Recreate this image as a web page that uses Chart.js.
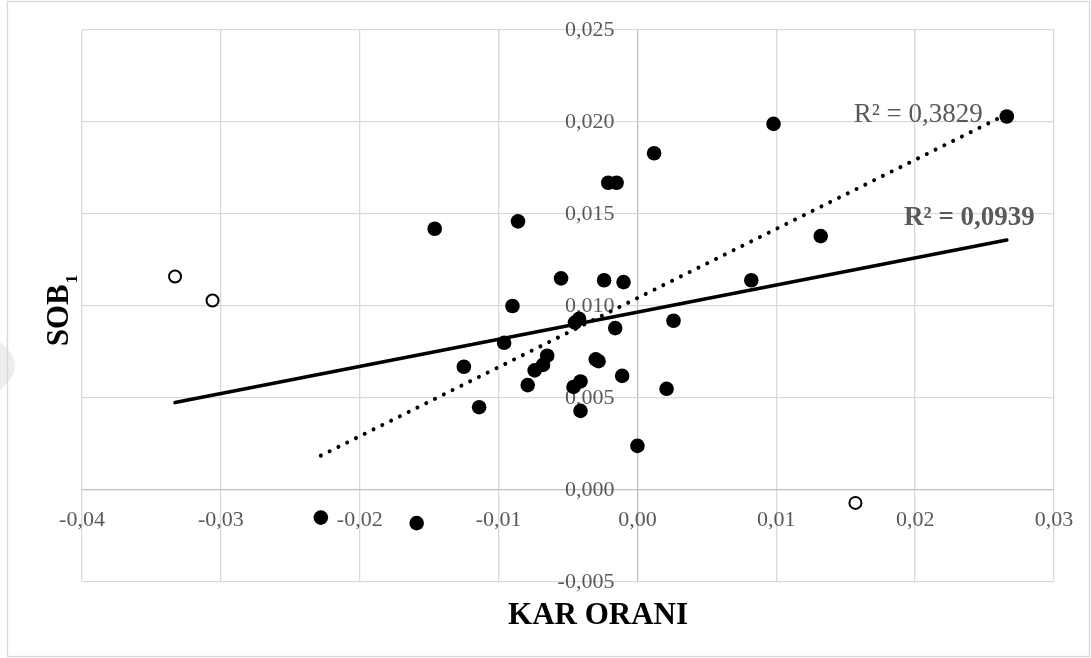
<!DOCTYPE html>
<html>
<head>
<meta charset="utf-8">
<style>
  html, body { margin: 0; padding: 0; background: #fff; }
</style>
</head>
<body>
<canvas id="sobChart" width="1091" height="658"></canvas>
<script src="https://cdn.jsdelivr.net/npm/chart.js"></script>
<script>
    // filled points (KAR ORANI, SOB1)
    const karOrani = [0.0266, 0.0098, 0.0012, -0.0021, -0.0015, -0.0086, -0.0146, 0.0132,
        -0.0055, -0.0024, -0.0010, 0.0082, -0.0090, -0.0045, -0.0042, -0.0016, 0.0026,
        -0.0096, -0.0125, -0.0065, -0.0068, -0.0074, -0.0079, -0.0030, -0.0028, -0.0011,
        0.0021, -0.0046, -0.0041, -0.0114, -0.0041, 0.0000, -0.0228, -0.0159];
    const sob1 = [0.0203, 0.0199, 0.0183, 0.0167, 0.0167, 0.0146, 0.0142, 0.0138,
        0.0115, 0.0114, 0.0113, 0.0114, 0.0100, 0.0091, 0.0093, 0.0088, 0.0092,
        0.0080, 0.0067, 0.0073, 0.0068, 0.0065, 0.0057, 0.0071, 0.0070, 0.0062,
        0.0055, 0.0056, 0.0059, 0.0045, 0.0043, 0.0024, -0.0015, -0.0018];

    // open circles (outliers)
    const outlierX = [-0.0333, -0.0306, 0.0157];
    const outlierY = [0.0116, 0.0103, -0.0007];

    const xTickValues = [-0.04, -0.03, -0.02, -0.01, 0, 0.01, 0.02, 0.03];
    const xTickLabels = ['-0,04', '-0,03', '-0,02', '-0,01', '0,00', '0,01', '0,02', '0,03'];
    const yTickValues = [-0.005, 0, 0.005, 0.01, 0.015, 0.02, 0.025];
    const yTickLabels = ['-0,005', '0,000', '0,005', '0,010', '0,015', '0,020', '0,025'];

    const r2Dotted = 'R² = 0,3829';
    const r2Solid = 'R² = 0,0939';

    const SERIF = '"Liberation Serif", "Times New Roman", serif';

    function toPoints(xs, ys) {
        return xs.map((x, i) => ({x: x, y: ys[i]}));
    }

    // least squares line over the x range of the data
    function trend(xs, ys) {
        const n = xs.length;
        const mx = xs.reduce((a, b) => a + b, 0) / n;
        const my = ys.reduce((a, b) => a + b, 0) / n;
        let sxy = 0, sxx = 0;
        for (let i = 0; i < n; i++) {
            sxy += (xs[i] - mx) * (ys[i] - my);
            sxx += (xs[i] - mx) * (xs[i] - mx);
        }
        const b = sxy / sxx, a = my - b * mx;
        const lo = Math.min(...xs), hi = Math.max(...xs);
        return [{x: lo, y: a + b * lo}, {x: hi, y: a + b * hi}];
    }

    const allX = karOrani.concat(outlierX);
    const allY = sob1.concat(outlierY);

    const gridColor = ctx => (ctx.tick && ctx.tick.value === 0) ? '#bfbfbf' : '#d9d9d9';

    const decor = {
        id: 'decor',
        beforeDraw(chart) {
            const c = chart.ctx;
            c.save();
            c.fillStyle = '#fff';
            c.fillRect(0, 0, chart.width, chart.height);
            c.fillStyle = '#ededed';
            c.beginPath();
            c.moveTo(0, 342);
            c.quadraticCurveTo(30, 366, 0, 390);
            c.fill();
            c.strokeStyle = '#d9d9d9';
            c.lineWidth = 1.3;
            c.strokeRect(7.5, 1.5, chart.width - 9, chart.height - 3);
            c.restore();
        },
        beforeDatasetsDraw(chart) {
            const {ctx: c, scales: {x, y}} = chart;
            c.save();
            c.font = '22px ' + SERIF;
            c.fillStyle = '#595959';
            c.textBaseline = 'middle';
            c.textAlign = 'center';
            const y0 = y.getPixelForValue(0);
            xTickValues.forEach((v, i) => c.fillText(xTickLabels[i], x.getPixelForValue(v), y0 + 30));
            c.textAlign = 'right';
            const x0 = x.getPixelForValue(0);
            yTickValues.forEach((v, i) => c.fillText(yTickLabels[i], x0 - 23, y.getPixelForValue(v)));
            c.restore();
        },
        afterDraw(chart) {
            const {ctx: c, chartArea: area, scales: {x, y}} = chart;
            c.save();
            c.fillStyle = '#000';
            c.textBaseline = 'alphabetic';

            // x title
            c.font = 'bold 31px ' + SERIF;
            c.textAlign = 'center';
            c.fillText('KAR ORANI', (area.left + area.right) / 2 + 30, 624);

            // y title, rotated with subscript
            c.font = 'bold 31px ' + SERIF;
            const wMain = c.measureText('SOB').width;
            c.font = 'bold 17px ' + SERIF;
            const wSub = c.measureText('1').width;
            const midY = (area.top + area.bottom) / 2 + 5;
            c.translate(68, midY + (wMain + wSub) / 2);
            c.rotate(-Math.PI / 2);
            c.textAlign = 'left';
            c.font = 'bold 31px ' + SERIF;
            c.fillText('SOB', 0, 0);
            c.font = 'bold 17px ' + SERIF;
            c.fillText('1', wMain + 1, 8.5);
            c.setTransform(1, 0, 0, 1, 0, 0);

            // R² labels next to the trend line ends
            const dEnd = chart.data.datasets[1].data[1];
            const sEnd = chart.data.datasets[0].data[1];
            c.fillStyle = '#595959';
            c.textAlign = 'right';
            c.font = '27px ' + SERIF;
            c.fillText(r2Dotted, x.getPixelForValue(dEnd.x) - 24, y.getPixelForValue(dEnd.y) + 8);
            c.font = 'bold 27px ' + SERIF;
            c.fillText(r2Solid, x.getPixelForValue(sEnd.x) + 28, y.getPixelForValue(sEnd.y) - 15);
            c.restore();
        }
    };

    const ctx = document.getElementById('sobChart').getContext('2d');
    const sobChart = new Chart(ctx, {
        type: 'scatter',
        data: {
            datasets: [{
                label: 'Trend (all)',
                data: trend(allX, allY),
                showLine: true,
                borderColor: '#000',
                borderWidth: 3.6,
                borderCapStyle: 'round',
                pointRadius: 0
            }, {
                label: 'Trend',
                data: trend(karOrani, sob1),
                showLine: true,
                borderColor: '#000',
                borderWidth: 4,
                borderDash: [0.01, 9.8],
                borderCapStyle: 'round',
                pointRadius: 0
            }, {
                label: 'SOB1',
                data: toPoints(karOrani, sob1),
                pointRadius: 7.3,
                backgroundColor: '#000',
                borderColor: '#000',
                borderWidth: 0
            }, {
                label: 'Outliers',
                data: toPoints(outlierX, outlierY),
                pointRadius: 6,
                backgroundColor: '#fff',
                borderColor: '#000',
                borderWidth: 2
            }]
        },
        options: {
            responsive: false,
            animation: false,
            devicePixelRatio: 1,
            events: [],
            layout: { padding: { left: 82, right: 37, top: 30, bottom: 76 } },
            plugins: { legend: { display: false }, tooltip: { enabled: false } },
            scales: {
                x: {
                    type: 'linear', min: -0.04, max: 0.03,
                    afterBuildTicks: s => { s.ticks = xTickValues.map(v => ({value: v})); },
                    ticks: { display: false },
                    grid: { color: gridColor, lineWidth: 1.3, drawTicks: false },
                    border: { display: false }
                },
                y: {
                    type: 'linear', min: -0.005, max: 0.025,
                    afterBuildTicks: s => { s.ticks = yTickValues.map(v => ({value: v})); },
                    ticks: { display: false },
                    grid: { color: gridColor, lineWidth: 1.3, drawTicks: false },
                    border: { display: false }
                }
            }
        },
        plugins: [decor]
    });
</script>
</body>
</html>
